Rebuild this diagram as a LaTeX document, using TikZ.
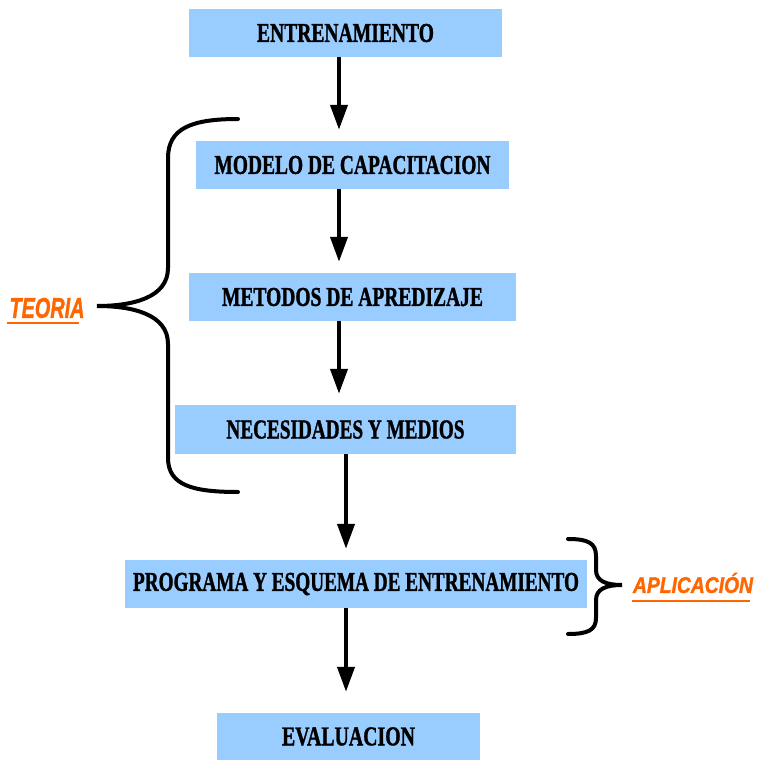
\documentclass[tikz,border=0pt]{standalone}
\usepackage{fontspec}
\setmainfont[BoldFeatures={FakeBold=1.5}]{Liberation Serif}
\newfontfamily\labfont[BoldItalicFeatures={FakeBold=1.5}]{Liberation Sans}
\usetikzlibrary{arrows.meta}
\definecolor{boxblue}{HTML}{99CCFF}
\definecolor{laborange}{HTML}{FF6600}
\newcommand{\boxtext}[2]{\resizebox{#1pt}{18pt}{\bfseries #2}}
\newcommand{\labtext}[2]{\resizebox{#1pt}{20pt}{\labfont\bfseries\itshape #2}}
\tikzset{
  stage/.style={fill=boxblue, inner sep=0pt, anchor=center},
  flow/.style={line width=4pt, -{Triangle[length=25pt,width=17pt]}, shorten >=11pt},
  brace/.style={line width=4pt, line cap=round},
  side/.style={text=laborange, inner sep=0pt}
}
\begin{document}
\begin{tikzpicture}[x=1pt, y=-1pt]
	\useasboundingbox (0,0) rectangle (761,760);
	% stages
	\node[stage, minimum width=313pt, minimum height=48pt] (ent) at (345.5,33) {\boxtext{177}{ENTRENAMIENTO}};
	\node[stage, minimum width=313pt, minimum height=48pt] (mod) at (352.5,165) {\boxtext{276}{MODELO DE CAPACITACION}};
	\node[stage, minimum width=327pt, minimum height=48pt] (met) at (352.5,297) {\boxtext{261}{METODOS DE APREDIZAJE}};
	\node[stage, minimum width=341pt, minimum height=49pt] (nec) at (345.5,429.5) {\boxtext{238}{NECESIDADES Y MEDIOS}};
	\node[stage, minimum width=462pt, minimum height=48pt] (prog) at (356,584) {\boxtext{446}{PROGRAMA Y ESQUEMA DE ENTRENAMIENTO}};
	\node[stage, minimum width=263pt, minimum height=47pt] (eval) at (348.5,736.5) {\boxtext{133}{EVALUACION}};
	% arrows
	\draw[flow] (ent.south -| 339,0) -- (mod.north -| 339,0);
	\draw[flow] (mod.south -| 339,0) -- (met.north -| 339,0);
	\draw[flow] (met.south -| 339,0) -- (nec.north -| 339,0);
	\draw[flow] (nec.south -| 346,0) -- (prog.north -| 346,0);
	\draw[flow, shorten >=21pt] (prog.south -| 346,0) -- (eval.north -| 346,0);
	% braces
	\node[side] (teo) at (47,308) {\labtext{75}{TEORIA}};
	\draw[laborange, line width=2.5pt] (7,323) -- (79,323);
	\coordinate (teotip) at (97,306);
	\draw[brace] (238,119) .. controls (192,119) and (168,128) .. (168,158) -- (168,268)
		.. controls (168,298) and (132,306) .. (teotip)
		.. controls (132,306) and (168,314) .. (168,344) -- (168,458)
		.. controls (168,485) and (192,492) .. (238,492);
	\node[side] (apl) at (693,583) {\labtext{120}{APLICACIÓN}};
	\draw[laborange, line width=2.5pt] (632,601) -- (750,601);
	\coordinate (apltip) at (622,585);
	\draw[brace] (568,539) .. controls (588,539) and (596,543) .. (596,556) -- (596,570)
		.. controls (596,581) and (606,585) .. (apltip)
		.. controls (606,585) and (596,589) .. (596,600) -- (596,618)
		.. controls (596,630) and (588,634) .. (568,634);
\end{tikzpicture}
\end{document}
